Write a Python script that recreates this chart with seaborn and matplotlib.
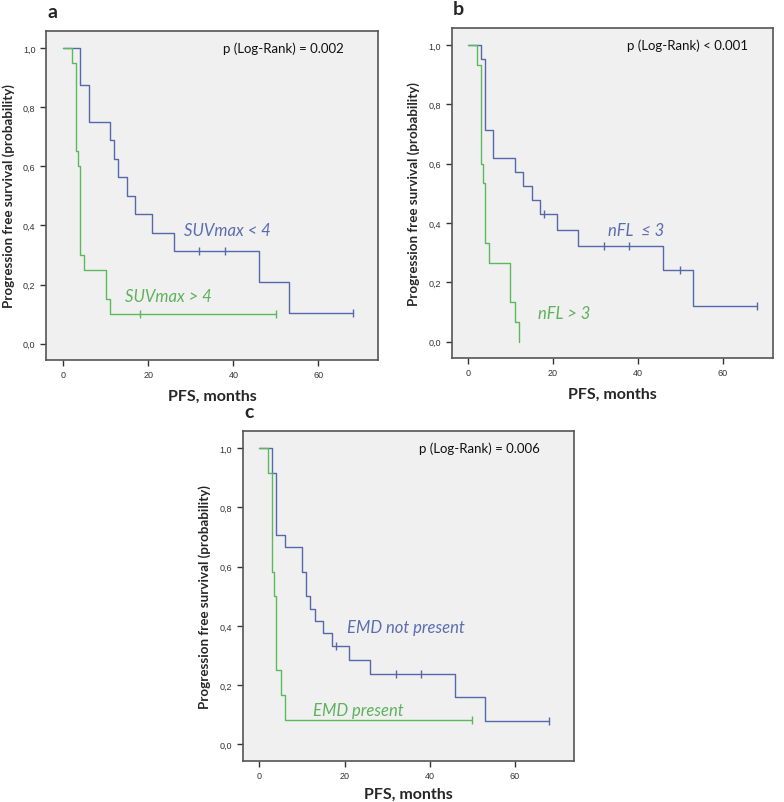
"""
Kaplan-Meier style PFS curves, three panels (a, b, c).
"""

# === Imports ===

import pandas as pd
import numpy as np
from matplotlib import pyplot as plt
import seaborn as sns


# === Data ===

# panel a: SUVmax
a_blue_t = [0, 4, 6, 11, 12, 13, 15, 17, 21, 26, 46, 53, 68]
a_blue_s = [1.0, 0.875, 0.75, 0.6875, 0.625, 0.5625, 0.5, 0.4375, 0.375, 0.3125, 0.2083, 0.1042, 0.1042]
a_blue_cens_t = [32, 38, 68]
a_blue_cens_s = [0.3125, 0.3125, 0.1042]
a_green_t = [0, 2, 3, 3.5, 4, 5, 10, 11, 50]
a_green_s = [1.0, 0.95, 0.65, 0.60, 0.30, 0.25, 0.15, 0.10, 0.10]
a_green_cens_t = [18, 50]
a_green_cens_s = [0.10, 0.10]

# panel b: nFL
b_blue_t = [0, 3, 4, 6, 11, 13, 15, 17, 21, 26, 46, 53, 68]
b_blue_s = [1.0, 0.9524, 0.7143, 0.6190, 0.5714, 0.5238, 0.4762, 0.4286, 0.375, 0.3214, 0.2411, 0.1205, 0.1205]
b_blue_cens_t = [18, 32, 38, 50, 68]
b_blue_cens_s = [0.4286, 0.3214, 0.3214, 0.2411, 0.1205]
b_green_t = [0, 2, 3, 3.5, 4, 5, 10, 11, 12]
b_green_s = [1.0, 0.9333, 0.6, 0.5333, 0.3333, 0.2667, 0.1333, 0.0667, 0.0]
b_green_cens_t = []
b_green_cens_s = []

# panel c: EMD
c_blue_t = [0, 3, 4, 6, 10, 11, 12, 13, 15, 17, 21, 26, 46, 53, 68]
c_blue_s = [1.0, 0.9167, 0.7083, 0.6667, 0.5833, 0.5, 0.4583, 0.4167, 0.375, 0.3333, 0.2857, 0.2381, 0.1587, 0.0794, 0.0794]
c_blue_cens_t = [18, 32, 38, 68]
c_blue_cens_s = [0.3333, 0.2381, 0.2381, 0.0794]
c_green_t = [0, 2, 3, 3.5, 4, 5, 6, 50]
c_green_s = [1.0, 0.9167, 0.5833, 0.5, 0.25, 0.1667, 0.0833, 0.0833]
c_green_cens_t = [50]
c_green_cens_s = [0.0833]

panel_letters = ["a", "b", "c"]
p_texts = ["p (Log-Rank) = 0.002", "p (Log-Rank) < 0.001", "p (Log-Rank) = 0.006"]
blue_labels = ["SUVmax < 4", "nFL  \u2264 3", "EMD not present"]
green_labels = ["SUVmax > 4", "nFL > 3", "EMD present"]
blue_label_pos = [(28.5, 0.385), (32.9, 0.378), (20.5, 0.396)]
green_label_pos = [(14.6, 0.16), (16.4, 0.097), (12.5, 0.115)]

xticks = [0, 20, 40, 60]
yticks = [0.0, 0.2, 0.4, 0.6, 0.8, 1.0]
ytick_labels = ["0,0", "0,2", "0,4", "0,6", "0,8", "1,0"]

blue = "#5567ad"
green = "#5cb85c"
blue_txt = "#5a6db0"
green_txt = "#5db25d"


# === Functions ===

def draw_panel(ax, letter, blue_t, blue_s, bc_t, bc_s, green_t, green_s, gc_t, gc_s,
               ptext, blab, bpos, glab, gpos, xlim, xpad=7):
    ax.set_facecolor("#f0f0f0")
    dblue = pd.DataFrame({"t": blue_t, "s": blue_s})
    dgreen = pd.DataFrame({"t": green_t, "s": green_s})
    sns.lineplot(data=dblue, x="t", y="s", ax=ax, color=blue, lw=1.0,
                 drawstyle="steps-post", estimator=None, sort=False)
    sns.lineplot(data=dgreen, x="t", y="s", ax=ax, color=green, lw=1.0,
                 drawstyle="steps-post", estimator=None, sort=False)
    if len(bc_t):
        sns.scatterplot(x=bc_t, y=bc_s, ax=ax, marker="|", s=30, color=blue, linewidth=1.0)
    if len(gc_t):
        sns.scatterplot(x=gc_t, y=gc_s, ax=ax, marker="|", s=30, color=green, linewidth=1.0)
    ax.set_xlim(*xlim)
    ax.set_ylim(-0.055, 1.057)
    ax.set_xticks(xticks)
    ax.set_yticks(yticks)
    ax.set_yticklabels(ytick_labels)
    ax.tick_params(axis="both", labelsize=6.5, colors="#333333", length=4, width=1.0, direction="out")
    for lab in ax.get_xticklabels() + ax.get_yticklabels():
        lab.set_family(["Liberation Sans", "DejaVu Sans"])
    for sp in ax.spines.values():
        sp.set_color("#555555")
        sp.set_linewidth(1.2)
    ax.set_xlabel("PFS, months", fontsize=11.5, fontweight="bold", labelpad=xpad)
    ax.set_ylabel("Progression free survival (probability)", fontsize=9.6, fontweight="bold", labelpad=6)
    ax.text(37.5, 1.0, ptext, fontsize=9.5, va="center", ha="left", color="#111111")
    ax.text(bpos[0], bpos[1], blab, fontsize=12, style="italic", color=blue_txt, va="center")
    ax.text(gpos[0], gpos[1], glab, fontsize=12, style="italic", color=green_txt, va="center")
    ax.annotate(letter, xy=(0, 1), xycoords="axes fraction", xytext=(1, 14),
                textcoords="offset points", fontsize=14, fontweight="bold", va="center", ha="left")


# === Main ===

def main():
    sns.set_style("ticks")
    plt.rcParams["font.family"] = ["Lato", "DejaVu Sans"]
    fig = plt.figure(figsize=(7.84, 8.03), dpi=100)
    ax_a = fig.add_axes([0.0587, 0.5504, 0.4235, 0.4097])
    ax_b = fig.add_axes([0.5761, 0.5529, 0.4098, 0.4110])
    ax_c = fig.add_axes([0.3096, 0.0514, 0.4226, 0.4102])
    draw_panel(ax_a, "a", a_blue_t, a_blue_s, a_blue_cens_t, a_blue_cens_s,
               a_green_t, a_green_s, a_green_cens_t, a_green_cens_s,
               p_texts[0], blue_labels[0], blue_label_pos[0], green_labels[0], green_label_pos[0], (-4, 74))
    draw_panel(ax_b, "b", b_blue_t, b_blue_s, b_blue_cens_t, b_blue_cens_s,
               b_green_t, b_green_s, b_green_cens_t, b_green_cens_s,
               p_texts[1], blue_labels[1], blue_label_pos[1], green_labels[1], green_label_pos[1], (-3.85, 71.8))
    draw_panel(ax_c, "c", c_blue_t, c_blue_s, c_blue_cens_t, c_blue_cens_s,
               c_green_t, c_green_s, c_green_cens_t, c_green_cens_s,
               p_texts[2], blue_labels[2], blue_label_pos[2], green_labels[2], green_label_pos[2], (-3.9, 73.9),
               xpad=5)
    fig.savefig("out.png", dpi=100)
    plt.close()


main()
